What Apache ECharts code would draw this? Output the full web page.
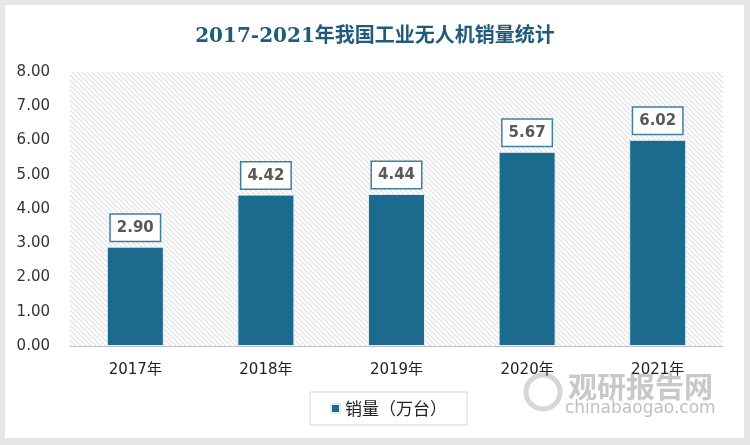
<!DOCTYPE html>
<html><head><meta charset="utf-8">
<script src="https://cdn.jsdelivr.net/npm/echarts@6/dist/echarts.min.js"></script>
<style>html,body{margin:0;padding:0;background:#e6e6e6;}#c{width:750px;height:445px;}</style>
</head><body><div id="c"></div>
<script>
const titleText = '2017-2021年我国工业无人机销量统计';
const categories = ['2017年','2018年','2019年','2020年','2021年'];
const salesValues = [2.90, 4.42, 4.44, 5.67, 6.02];
const seriesName = '销量（万台）';

// hatch pattern
const pc = document.createElement('canvas');
pc.width = 5; pc.height = 5;
const g = pc.getContext('2d');
g.fillStyle = '#ffffff'; g.fillRect(0,0,5,5);
g.strokeStyle = '#dedede'; g.lineWidth = 1.1;
g.beginPath();
g.moveTo(-1,-1); g.lineTo(6,6);
g.moveTo(-4,1); g.lineTo(4,9);
g.moveTo(1,-4); g.lineTo(9,4);
g.stroke();

const chart = echarts.init(document.getElementById('c'), null, {renderer:'canvas'});
chart.setOption({
  backgroundColor: '#e6e6e6',
  animation: false,
  title: {
    text: titleText, left: 'center', top: 22,
    textStyle: {fontFamily: '"DejaVu Serif", "Noto Sans CJK SC", serif', fontWeight: 'bold', fontSize: 20, color: '#1f5b7b'}
  },
  graphic: [
    {type:'rect', z:-10, shape:{x:5,y:5,width:739,height:433}, style:{fill:'#ffffff'}, silent:true},
    {type:'text', z:-5, left:568, top:372, style:{text:'观研报告网', font:'bold 29px "Noto Sans CJK SC"', fill:'#c8c8c8'}},
    {type:'text', z:-5, left:565, top:400, style:{text:'chinabaogao.com', font:'17px "DejaVu Sans"', fill:'#c0c0c0'}},
    {type:'circle', z:-5, shape:{cx:543, cy:392, r:17}, style:{fill:'none', stroke:'#d6d6d6', lineWidth:5}}
  ],
  grid: {left: 70, right: 27, top: 72, bottom: 99, show: true, borderWidth: 0,
    backgroundColor: {image: pc, repeat: 'repeat'}},
  legend: {
    data: [seriesName], left: 310, top: 392, padding: [8, 20],
    backgroundColor: '#ffffff', borderColor: '#d4d4d4', borderWidth: 1,
    icon: 'rect', itemWidth: 9, itemHeight: 9, itemGap: 5,
    textStyle: {fontSize: 17, color: '#222', fontFamily: '"Noto Sans CJK SC"'}
  },
  xAxis: {
    type: 'category', data: categories,
    axisLine: {lineStyle: {color: '#bfbfbf'}},
    axisTick: {show: false},
    axisLabel: {fontSize: 15, color: '#222', margin: 17, fontFamily: '"DejaVu Sans", "Noto Sans CJK SC"'}
  },
  yAxis: {
    type: 'value', min: 0, max: 8, interval: 1,
    axisLine: {show: false}, axisTick: {show: false},
    splitLine: {show: false},
    axisLabel: {fontSize: 15, color: '#333', margin: 20, fontFamily: '"DejaVu Sans"',
      formatter: v => v.toFixed(2)}
  },
  series: [{
    name: seriesName, type: 'bar', data: salesValues, barWidth: 57,
    itemStyle: {color: '#1c6a8d', borderColor: '#e3eef3', borderWidth: 1},
    label: {
      show: true, position: 'top', distance: 6,
      formatter: p => p.value.toFixed(2),
      fontSize: 15, fontWeight: 'bold', color: '#595959', fontFamily: '"DejaVu Sans"',
      backgroundColor: '#ffffff', borderColor: '#3d7fa0', borderWidth: 1.5,
      padding: [6, 6, 5, 6]
    }
  }]
});
</script></body></html>
